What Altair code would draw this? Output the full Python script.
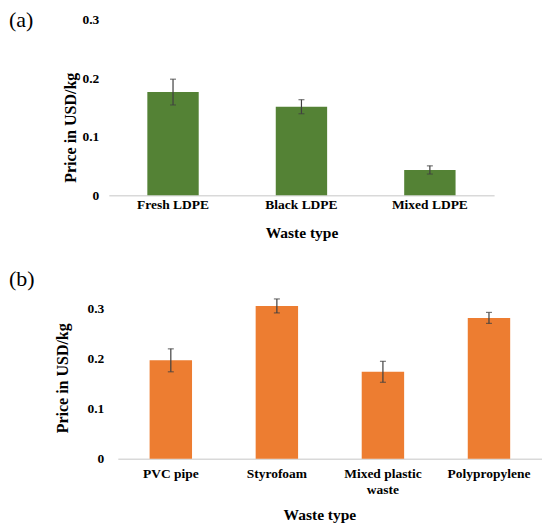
import altair as alt
import pandas as pd

# ---- data ----
cats_a = ["Fresh LDPE", "Black LDPE", "Mixed LDPE"]
price_a = [0.176, 0.151, 0.043]
err_a = [0.022, 0.012, 0.007]

cats_b = ["PVC pipe", "Styrofoam", "Mixed plastic waste", "Polypropylene"]
price_b = [0.197, 0.306, 0.174, 0.282]
err_b = [0.023, 0.014, 0.021, 0.011]

y_ticks = [0, 0.1, 0.2, 0.3]

FONT = "Liberation Serif"
GREEN = "#548235"
ORANGE = "#ED7D31"
ERR = "#404040"


def panel(cats, vals, errs, color, tag, width, height, *, title_dx, title_dy,
          y_title_y, y_title_pad, y_label_pad, x_label_pad, x_title_pad,
          x_title_x=None, x_range=None):
    df = pd.DataFrame({
        "cat": cats,
        "val": vals,
        "lo": [v - e for v, e in zip(vals, errs)],
        "hi": [v + e for v, e in zip(vals, errs)],
    })
    xaxis_kw = dict(
        title="Waste type", labelAngle=0, labelFont=FONT, labelFontWeight="bold",
        labelFontSize=13.5, labelColor="#000", titleFont=FONT, titleFontWeight="bold",
        titleFontSize=15.5, titleColor="#000", domainColor="#D9D9D9", domainWidth=1.5,
        ticks=False, labelPadding=x_label_pad, titlePadding=x_title_pad,
        labelExpr="datum.label == 'Mixed plastic waste' ? ['Mixed plastic', 'waste'] : datum.label",
        labelLineHeight=16,
    )
    if x_title_x is not None:
        xaxis_kw["titleX"] = x_title_x
    xaxis = alt.Axis(**xaxis_kw)
    yaxis = alt.Axis(
        title="Price in USD/kg", values=y_ticks, format=".1~f", grid=False, domain=False,
        ticks=False, labelFont=FONT, labelFontWeight="bold", labelFontSize=13.5,
        labelColor="#000", titleFont=FONT, titleFontWeight="bold", titleFontSize=16,
        titleColor="#000", labelPadding=y_label_pad, titlePadding=y_title_pad,
        titleY=y_title_y,
    )
    xs_kw = dict(paddingInner=0.6, paddingOuter=0.3)
    if x_range is not None:
        xs_kw["range"] = x_range
    xs = alt.Scale(**xs_kw)
    ys = alt.Scale(domain=[0, 0.3])
    base = alt.Chart(df)
    X = lambda: alt.X("cat:N", sort=cats, scale=xs, axis=xaxis)
    bars = base.mark_bar(color=color).encode(
        x=X(), y=alt.Y("val:Q", scale=ys, axis=yaxis),
    )
    rule = base.mark_rule(color=ERR, strokeWidth=1.2).encode(
        x=X(), y=alt.Y("lo:Q", scale=ys, axis=yaxis), y2="hi:Q",
    )
    cap_lo = base.mark_tick(color=ERR, size=6, thickness=1.2).encode(
        x=X(), y=alt.Y("lo:Q", scale=ys, axis=yaxis),
    )
    cap_hi = base.mark_tick(color=ERR, size=6, thickness=1.2).encode(
        x=X(), y=alt.Y("hi:Q", scale=ys, axis=yaxis),
    )
    return alt.layer(bars, rule, cap_lo, cap_hi).properties(
        width=width, height=height,
        title=alt.TitleParams(text=tag, anchor="start", frame="group", font=FONT,
                              fontSize=22, fontWeight="normal", color="#000",
                              dx=title_dx, dy=title_dy, offset=0),
    )


pa = panel(cats_a, price_a, err_a, GREEN, "(a)", 386, 176,
           title_dx=-100, title_dy=20, y_title_y=108, y_title_pad=3, y_label_pad=10,
           x_label_pad=2, x_title_pad=15)
pb = panel(cats_b, price_b, err_b, ORANGE, "(b)", 434, 150,
           title_dx=-100, title_dy=-7, y_title_y=69, y_title_pad=17, y_label_pad=5,
           x_label_pad=8, x_title_pad=11, x_title_x=211, x_range=[9, 434])

chart = alt.concat(pa, pb, columns=1, spacing=27).properties(
    padding={"left": 1, "top": 1, "right": 0, "bottom": 0}, background="white"
).configure_view(stroke=None)

chart.save("out.html", embed_options={"renderer": "svg", "actions": False})
